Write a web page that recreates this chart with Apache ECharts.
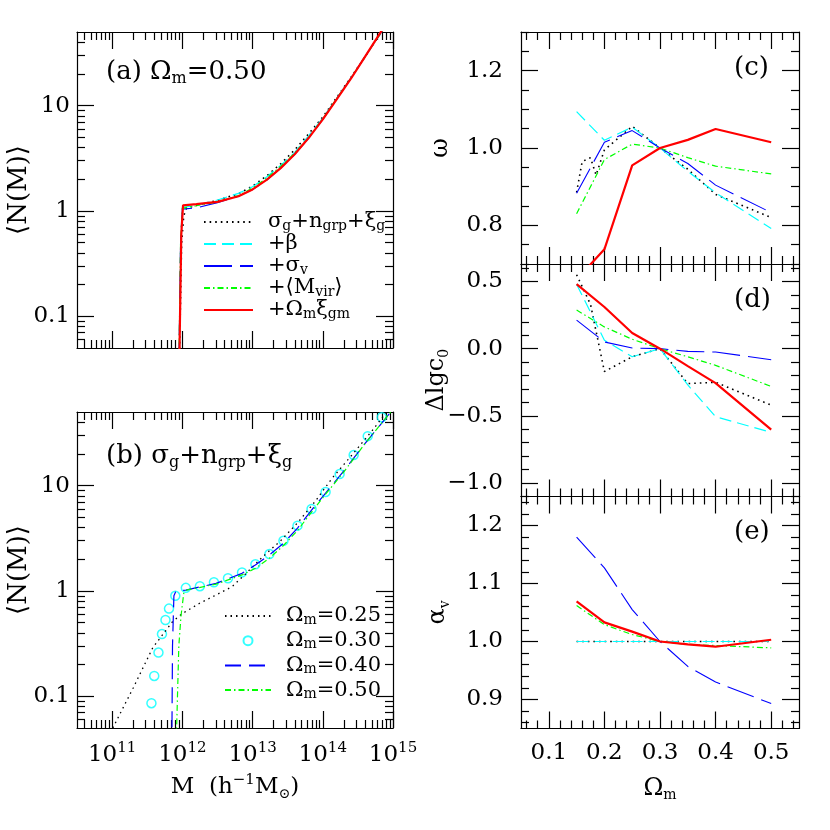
<!DOCTYPE html>
<html>
<head>
<meta charset="utf-8">
<script src="https://cdn.jsdelivr.net/npm/echarts@6/dist/echarts.min.js"></script>
<style>
html,body{margin:0;padding:0;background:#fff}
#c{width:830px;height:830px}
</style>
</head>
<body>
<div id="c"></div>
<script>
// ---------- data ----------
// panel (a): <N(M)> for Omega_m = 0.50, lgM = log10(M / h^-1 Msun)
const A_BASE_LGM = [11.955, 11.99, 12.02, 12.06, 12.2, 12.5, 12.8, 13.0, 13.2, 13.4, 13.6, 13.8, 14.0, 14.2, 14.4, 14.6, 14.8, 15.0];
const A_BASE_N   = [0.03, 0.5, 0.9, 1.06, 1.13, 1.26, 1.46, 1.72, 2.15, 2.8, 3.8, 5.4, 7.8, 12, 18.5, 29, 46, 72];
const A_LGM      = [11.95, 11.975, 12.0, 12.2, 12.5, 12.8, 13.0, 13.2, 13.4, 13.6, 13.8, 14.0, 14.2, 14.4, 14.6, 14.8, 15.0];
const A_BETA_N   = [0.03, 0.5, 1.08, 1.13, 1.27, 1.47, 1.7, 2.1, 2.7, 3.6, 5.2, 7.6, 11.8, 18.3, 29, 46, 73];
const A_SIGV_N   = [0.03, 0.5, 1.04, 1.07, 1.2, 1.38, 1.6, 1.95, 2.55, 3.45, 4.9, 7.4, 11.6, 18.2, 29, 46, 73];
const A_MVIR_N   = [0.03, 0.5, 1.06, 1.12, 1.22, 1.4, 1.65, 2.05, 2.65, 3.55, 5.0, 7.5, 11.7, 18.2, 29, 46, 73];
const A_OMXI_LGM = [11.955, 11.985, 12.01, 12.2, 12.5, 12.8, 13.0, 13.2, 13.4, 13.6, 13.8, 14.0, 14.2, 14.4, 14.6, 14.8, 15.0];
const A_OMXI_N   = [0.03, 0.6, 1.13, 1.16, 1.22, 1.38, 1.6, 1.97, 2.55, 3.45, 4.95, 7.4, 11.5, 18, 29, 47, 75];

// panel (b): sigma_g + n_grp + xi_g fits for several Omega_m
const B25_LGM = [11.01, 11.3, 11.58, 11.86, 12.0, 12.24, 12.5, 12.71, 12.9, 13.14, 13.4, 13.65, 13.9, 14.13, 14.4, 14.7, 15.0];
const B25_N   = [0.05, 0.12, 0.29, 0.51, 0.61, 0.76, 0.93, 1.1, 1.45, 2.1, 3.0, 4.5, 7.2, 11.7, 19, 33, 60];
const B30_LGM = [11.56, 11.6, 11.66, 11.71, 11.76, 11.81, 11.9, 12.05, 12.25, 12.45, 12.65, 12.85, 13.04, 13.24, 13.44, 13.64, 13.84, 14.04, 14.24, 14.44, 14.64, 14.84];
const B30_N   = [0.086, 0.156, 0.26, 0.39, 0.53, 0.68, 0.9, 1.07, 1.11, 1.21, 1.32, 1.5, 1.79, 2.24, 3.0, 4.17, 6.0, 8.7, 12.9, 19.5, 29.5, 44.6];
const B40_LGM = [11.85, 11.86, 11.88, 11.91, 12.05, 12.48, 12.85, 13.04, 13.24, 13.44, 13.64, 13.84, 14.04, 14.3, 14.6, 14.9, 15.0];
const B40_N   = [0.03, 0.3, 0.9, 1.0, 1.02, 1.18, 1.47, 1.76, 2.2, 2.83, 3.95, 5.86, 8.5, 13.8, 25, 44, 53];
const B50_LGM = [11.91, 11.95, 11.98, 12.02, 12.06, 12.48, 12.85, 13.04, 13.24, 13.44, 13.64, 13.84, 14.04, 14.3, 14.6, 14.9, 15.0];
const B50_N   = [0.03, 0.3, 0.57, 0.95, 1.02, 1.16, 1.42, 1.64, 2.05, 2.7, 3.75, 5.6, 8.3, 13.5, 25, 44, 53];

// panels (c)-(e): parameters vs Omega_m
const OM = [0.15, 0.2, 0.25, 0.3, 0.35, 0.4, 0.5];
const C_BASE_OM = [0.15, 0.16, 0.175, 0.185, 0.2, 0.25, 0.3, 0.35, 0.4, 0.5];
const C_BASE = [0.885, 0.965, 0.975, 0.93, 0.995, 1.056, 1.0, 0.945, 0.88, 0.82];
const C_BETA = [1.094, 1.02, 1.054, 1.0, 0.94, 0.884, 0.792];
const C_SIGV = [0.883, 1.015, 1.045, 1.0, 0.96, 0.904, 0.833];
const C_MVIR = [0.83, 0.97, 1.01, 1.0, 0.975, 0.953, 0.933];
const C_OMXI = [0.66, 0.738, 0.955, 1.0, 1.021, 1.049, 1.015];

const D_BASE_OM = [0.15, 0.175, 0.2, 0.25, 0.3, 0.35, 0.4, 0.5];
const D_BASE = [0.55, 0.33, -0.17, -0.06, 0.0, -0.26, -0.25, -0.42];
const D_BETA = [0.48, 0.063, -0.06, 0.0, -0.27, -0.506, -0.623];
const D_SIGV = [0.212, 0.05, 0.005, 0.0, -0.02, -0.025, -0.082];
const D_MVIR = [0.287, 0.162, 0.07, 0.0, -0.06, -0.124, -0.281];
const D_OMXI = [0.48, 0.31, 0.117, 0.0, -0.13, -0.256, -0.603];

const E_BASE = [1.0, 1.0, 1.0, 1.0, 1.0, 1.0, 1.0];
const E_BETA = [1.0, 1.0, 1.0, 1.0, 1.0, 1.0, 1.0];
const E_SIGV = [1.18, 1.127, 1.055, 1.0, 0.957, 0.93, 0.893];
const E_MVIR = [1.062, 1.029, 1.012, 1.0, 0.995, 0.993, 0.989];
const E_OMXI = [1.069, 1.033, 1.017, 1.0, 0.995, 0.991, 1.003];

// tick labels
const X_DECADES = [11, 12, 13, 14, 15];
const N_LABELS = [0.1, 1, 10];
const OM_LABELS = [0.1, 0.2, 0.3, 0.4, 0.5];
const W_LABELS = [0.8, 1.0, 1.2];
const DC_LABELS = [-1.0, -0.5, 0.0, 0.5];
const AV_LABELS = [0.9, 1.0, 1.1, 1.2];

// ---------- styles ----------
const F = 'DejaVu Serif';
const STY = {
  base: {color: '#000000', width: 1.6, type: [1.6, 4]},
  beta: {color: '#00ffff', width: 1.2, type: [12, 6]},
  sigv: {color: '#0000ff', width: 1.1, type: [28, 8]},
  mvir: {color: '#00ff00', width: 1.2, type: [6, 3, 1.5, 3]},
  omxi: {color: '#ff0000', width: 2.2, type: 'solid'},
  om25: {color: '#000000', width: 1.3, type: [1.5, 4]},
  om40: {color: '#0000ff', width: 1.2, type: [16, 8]},
  om50: {color: '#00ff00', width: 1.2, type: [6, 3, 1.5, 3]}
};
const RICH = {
  s: {fontFamily: F, fontSize: 14, lineHeight: 10, verticalAlign: 'bottom', color: '#000'},
  p: {fontFamily: F, fontSize: 15, lineHeight: 12, verticalAlign: 'top', color: '#000'}
};
const RICH_T = {
  s: {fontFamily: F, fontSize: 16, lineHeight: 12, verticalAlign: 'bottom', color: '#000'}
};
const AXC = {color: '#000', width: 1.2};

// ---------- ticks ----------
function logMinor(lo, hi) {
  const out = [];
  for (let d = Math.floor(lo); d < hi; d++)
    for (let m = 2; m <= 9; m++) {
      const v = d + Math.log10(m);
      if (v > lo + 1e-6 && v < hi - 1e-6) out.push(v);
    }
  return out;
}
function linTicks(lo, hi, step) {
  const out = [];
  const n = Math.round((hi - lo) / step);
  for (let i = 0; i <= n; i++) out.push(Math.round((lo + i * step) * 1000) / 1000);
  return out;
}
function minus(list, skip) {
  return list.filter(v => !skip.some(s => Math.abs(s - v) < 1e-6));
}

const XR = [10.5, 15];
const YR = [Math.log10(0.05), Math.log10(50)];
const OMR = [0.05, 0.55];
const GRIDS = [
  {left: 77, top: 32, width: 316, height: 316},
  {left: 77, top: 412, width: 316, height: 316},
  {left: 521, top: 32, width: 278, height: 232},
  {left: 521, top: 264, width: 278, height: 232.5},
  {left: 521, top: 496.5, width: 278, height: 232}
];

const xAxes = [], yAxes = [];
function tickAxis(g, pos, range, ticks, len, line) {
  return {
    type: 'value', gridIndex: g, position: pos, min: range[0], max: range[1],
    axisLine: {show: line, onZero: false, lineStyle: AXC},
    axisTick: {show: true, inside: true, length: len, customValues: ticks, lineStyle: AXC},
    axisLabel: {show: false}, splitLine: {show: false}, silent: true, nameMoveOverlap: false
  };
}
function frame(g, xr, xMaj, xMin, yr, yMaj, yMin) {
  const ix = xAxes.length, iy = yAxes.length;
  xAxes.push(tickAxis(g, 'bottom', xr, xMaj, 17, true));
  xAxes.push(tickAxis(g, 'bottom', xr, xMin, 8, false));
  xAxes.push(tickAxis(g, 'top', xr, xMaj, 17, true));
  xAxes.push(tickAxis(g, 'top', xr, xMin, 8, false));
  yAxes.push(tickAxis(g, 'left', yr, yMaj, 17, true));
  yAxes.push(tickAxis(g, 'left', yr, yMin, 8, false));
  yAxes.push(tickAxis(g, 'right', yr, yMaj, 17, true));
  yAxes.push(tickAxis(g, 'right', yr, yMin, 8, false));
  return {x: xAxes[ix], y: yAxes[iy], xi: ix, yi: iy};
}
function logDataAxes(g) {
  const hid = {axisLine: {show: false}, axisTick: {show: false}, axisLabel: {show: false}, splitLine: {show: false}};
  xAxes.push(Object.assign({type: 'log', gridIndex: g, min: Math.pow(10, XR[0]), max: Math.pow(10, XR[1])}, hid));
  yAxes.push(Object.assign({type: 'log', gridIndex: g, min: 0.05, max: 50}, hid));
  return {xi: xAxes.length - 1, yi: yAxes.length - 1};
}

const LBL = {show: true, fontFamily: F, fontSize: 23, color: '#000'};
const xDec = X_DECADES, yDec = [-1, 0, 1];
const xLogMinor = logMinor(XR[0], XR[1]);
const yLogMinor = logMinor(YR[0], YR[1]);

// (a)
const fa = frame(0, XR, xDec, xLogMinor, YR, yDec, yLogMinor);
// (b)
const fb = frame(1, XR, xDec, xLogMinor, YR, yDec, yLogMinor);
[fa, fb].forEach(f => {
  f.y.axisLabel = Object.assign({}, LBL, {
    customValues: N_LABELS.map(Math.log10), margin: 7,
    formatter: v => String(parseFloat(Math.pow(10, v).toPrecision(2)))
  });
  f.y.name = '\u27e8N(M)\u27e9';
  f.y.nameLocation = 'middle';
  f.y.nameRotate = 90;
  f.y.nameGap = 44;
  f.y.nameTextStyle = {fontFamily: F, fontSize: 26, color: '#000', lineHeight: 28};
});
fb.x.axisLabel = Object.assign({}, LBL, {
  customValues: X_DECADES, margin: 13, lineHeight: 28, rich: RICH,
  formatter: v => '10{p|' + Math.round(v) + '}'
});
fb.x.name = 'M  (h{p|\u22121}M{s|\u2299})';
fb.x.nameLocation = 'middle';
fb.x.nameGap = 45;
fb.x.nameTextStyle = {fontFamily: F, fontSize: 23, color: '#000', lineHeight: 28, rich: RICH};
const la = logDataAxes(0);
const lb = logDataAxes(1);

// (c) (d) (e)
const omMinor = minus(linTicks(0.06, 0.54, 0.02), OM_LABELS);
const fc = frame(2, OMR, OM_LABELS, omMinor, [0.7, 1.3], W_LABELS, minus(linTicks(0.7, 1.3, 0.05), W_LABELS));
const fd = frame(3, OMR, OM_LABELS, omMinor, [-1.1, 0.63], DC_LABELS, minus(linTicks(-1.1, 0.6, 0.1), DC_LABELS));
const fe = frame(4, OMR, OM_LABELS, omMinor, [0.85, 1.25], AV_LABELS, minus(linTicks(0.86, 1.24, 0.02), AV_LABELS));
const yNames = [
  [fc, W_LABELS, '\u03c9', 66],
  [fd, DC_LABELS, '\u0394lgc{s|0}', 70],
  [fe, AV_LABELS, '\u03b1{s|v}', 69]
];
yNames.forEach(([f, labs, nm, gap]) => {
  f.y.axisLabel = Object.assign({}, LBL, {
    customValues: labs, margin: 18,
    formatter: v => (v < -1e-9 ? '\u2212' : '') + Math.abs(v).toFixed(1)
  });
  f.y.name = nm;
  f.y.nameLocation = 'middle';
  f.y.nameRotate = 90;
  f.y.nameGap = gap;
  f.y.nameTextStyle = {fontFamily: F, fontSize: 24, color: '#000', lineHeight: 28, rich: RICH};
});
fe.x.axisLabel = Object.assign({}, LBL, {customValues: OM_LABELS, margin: 13, lineHeight: 24, formatter: v => v.toFixed(1)});
fe.x.name = '\u03a9{s|m}';
fe.x.nameLocation = 'middle';
fe.x.nameGap = 46;
fe.x.nameTextStyle = {fontFamily: F, fontSize: 24, color: '#000', lineHeight: 28, rich: RICH};

// ---------- series ----------
const series = [];
function line(name, xi, yi, xs, ys, logX) {
  series.push({
    type: 'line', name: name, xAxisIndex: xi, yAxisIndex: yi,
    data: xs.map((x, i) => [logX ? Math.pow(10, x) : x, ys[i]]),
    symbol: 'none', showSymbol: false, clip: true, silent: true, animation: false,
    lineStyle: Object.assign({}, STY[name]), itemStyle: {color: STY[name].color}
  });
}
line('base', la.xi, la.yi, A_BASE_LGM, A_BASE_N, true);
line('beta', la.xi, la.yi, A_LGM, A_BETA_N, true);
line('sigv', la.xi, la.yi, A_LGM, A_SIGV_N, true);
line('mvir', la.xi, la.yi, A_LGM, A_MVIR_N, true);
line('omxi', la.xi, la.yi, A_OMXI_LGM, A_OMXI_N, true);

line('om25', lb.xi, lb.yi, B25_LGM, B25_N, true);
series.push({
  type: 'scatter', name: 'om30', xAxisIndex: lb.xi, yAxisIndex: lb.yi,
  data: B30_LGM.map((x, i) => [Math.pow(10, x), B30_N[i]]),
  symbol: 'circle', symbolSize: 9, silent: true, animation: false,
  itemStyle: {color: 'rgba(0,0,0,0)', borderColor: '#00ffff', borderWidth: 1.5}
});
line('om40', lb.xi, lb.yi, B40_LGM, B40_N, true);
line('om50', lb.xi, lb.yi, B50_LGM, B50_N, true);

line('base', fc.xi, fc.yi, C_BASE_OM, C_BASE);
line('beta', fc.xi, fc.yi, OM, C_BETA);
line('sigv', fc.xi, fc.yi, OM, C_SIGV);
line('mvir', fc.xi, fc.yi, OM, C_MVIR);
line('omxi', fc.xi, fc.yi, OM, C_OMXI);

line('base', fd.xi, fd.yi, D_BASE_OM, D_BASE);
line('beta', fd.xi, fd.yi, OM, D_BETA);
line('sigv', fd.xi, fd.yi, OM, D_SIGV);
line('mvir', fd.xi, fd.yi, OM, D_MVIR);
line('omxi', fd.xi, fd.yi, OM, D_OMXI);

line('base', fe.xi, fe.yi, OM, E_BASE);
line('beta', fe.xi, fe.yi, OM, E_BETA);
line('sigv', fe.xi, fe.yi, OM, E_SIGV);
line('mvir', fe.xi, fe.yi, OM, E_MVIR);
line('omxi', fe.xi, fe.yi, OM, E_OMXI);

// ---------- legends & titles ----------
const LEG_TEXT = {
  base: '\u03c3{s|g}+n{s|grp}+\u03be{s|g}',
  beta: '+\u03b2',
  sigv: '+\u03c3{s|v}',
  mvir: '+\u27e8M{s|vir}\u27e9',
  omxi: '+\u03a9{s|m}\u03be{s|gm}',
  om25: '\u03a9{s|m}=0.25',
  om30: '\u03a9{s|m}=0.30',
  om40: '\u03a9{s|m}=0.40',
  om50: '\u03a9{s|m}=0.50'
};
// line entries: hide the marker dot that echarts adds to line legend icons
const lineItem = n => ({name: n, itemStyle: {opacity: 0}});
function legend(items, left, top, w, h, gap) {
  return {
    data: items, orient: 'vertical', left: left, top: top, padding: 0,
    itemWidth: w, itemHeight: h, itemGap: gap, selectedMode: false,
    formatter: n => LEG_TEXT[n],
    textStyle: {fontFamily: F, fontSize: 21, color: '#000', lineHeight: 22, padding: [0, 0, 0, 10], rich: RICH}
  };
}

const TSTY = {fontFamily: F, fontSize: 26, fontWeight: 'normal', color: '#000', lineHeight: 30, rich: RICH_T};
const titles = [
  ['(a) \u03a9{s|m}=0.50', 106, 57],
  ['(b) \u03c3{s|g}+n{s|grp}+\u03be{s|g}', 106, 441],
  ['(c)', 734, 53],
  ['(d)', 734, 285],
  ['(e)', 734, 517]
].map(([t, l, tp]) => ({text: t, left: l, top: tp, padding: 0, textStyle: TSTY}));

const chart = echarts.init(document.getElementById('c'));
chart.setOption({
  backgroundColor: '#fff',
  animation: false,
  title: titles,
  legend: [
    legend(['base', 'beta', 'sigv', 'mvir', 'omxi'].map(lineItem), 203, 211, 49, 12, 0),
    legend([lineItem('om25'), 'om30', lineItem('om40'), lineItem('om50')], 224, 605, 46, 9, 2.7)
  ],
  grid: GRIDS.map(g => Object.assign({containLabel: false, outerBoundsMode: 'none'}, g)),
  xAxis: xAxes,
  yAxis: yAxes,
  series: series
});
</script>
</body>
</html>
